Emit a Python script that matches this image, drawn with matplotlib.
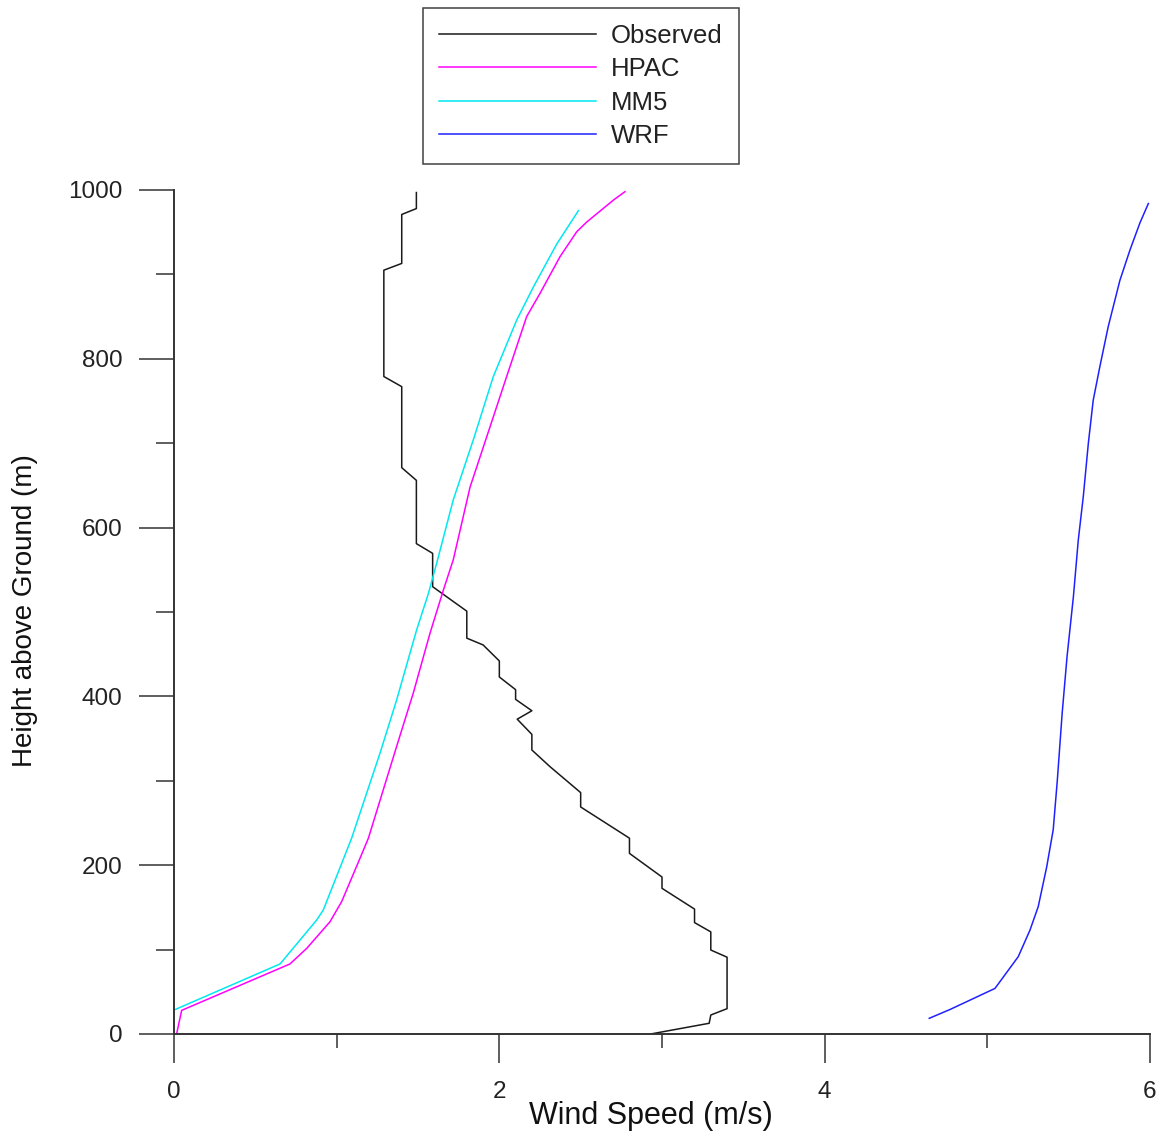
import matplotlib
matplotlib.use("Agg")
import matplotlib.pyplot as plt
from matplotlib.ticker import MultipleLocator

plt.rcParams["font.family"] = ["Liberation Sans", "DejaVu Sans"]

# Observed wind profile (m/s vs height above ground, m)
obs_speed = [2.93, 3.29, 3.30, 3.40, 3.40, 3.30, 3.30, 3.20, 3.20, 3.00,
             3.00, 2.80, 2.80, 2.50, 2.50, 2.31, 2.20, 2.20, 2.11, 2.20,
             2.10, 2.10, 2.00, 2.00, 1.90, 1.80, 1.80, 1.72, 1.59, 1.59,
             1.49, 1.49, 1.40, 1.40, 1.29, 1.29, 1.40, 1.40, 1.49, 1.49]
obs_height = [0, 12.7, 22.5, 30, 91, 99.5, 121, 132, 148, 172.6,
              186, 214, 232, 269, 286, 317, 336.5, 355, 373, 383,
              396.5, 408, 423, 442, 461, 469, 501, 512, 530, 569.5,
              581, 656, 671, 767, 779, 905, 913, 971, 978, 997]

# HPAC profile
hpac_speed = [0.016, 0.047, 0.713, 0.816, 0.959, 1.031, 1.143, 1.195, 1.369,
              1.471, 1.574, 1.656, 1.717, 1.820, 1.943, 2.045, 2.168, 2.250,
              2.373, 2.476, 2.537, 2.701, 2.772]
hpac_height = [0, 28, 83, 101.5, 133, 157, 208, 232, 341,
               404, 475, 526, 562, 648, 719.5, 779, 850, 877.5,
               921, 950.6, 962, 988, 998]

# MM5 profile
mm5_speed = [0.0, 0.652, 0.877, 0.918, 1.092, 1.266, 1.369, 1.492, 1.564,
             1.615, 1.717, 1.840, 1.963, 2.107, 2.209, 2.353, 2.486]
mm5_height = [28.4, 83, 135, 147, 232, 332.5, 396, 479, 522,
              558, 633, 704, 779, 846, 885, 936, 975.5]

# WRF profile
wrf_speed = [4.643, 4.770, 5.047, 5.190, 5.262, 5.313, 5.365, 5.405, 5.430,
             5.460, 5.490, 5.529, 5.559, 5.590, 5.621, 5.651, 5.692, 5.743,
             5.815, 5.877, 5.938, 5.990]
wrf_height = [18.6, 29, 54, 91.6, 123, 151, 198, 242, 300,
              380, 447, 518, 585, 637, 700, 751, 791, 838,
              893, 929, 961, 984]

series_labels = ["Observed", "HPAC", "MM5", "WRF"]
series_colors = ["#1a1a1a", "#ff00ff", "#00e8f0", "#2020ff"]

W, H = 1160, 1137
fig = plt.figure(figsize=(W / 100, H / 100), dpi=100)
ax = fig.add_axes([174 / W, 1 - 1034 / H, (1150 - 174) / W, (1034 - 190) / H])

lw = 1.1
l_obs, = ax.plot(obs_speed, obs_height, color=series_colors[0], lw=lw)
l_hpac, = ax.plot(hpac_speed, hpac_height, color=series_colors[1], lw=lw)
l_mm5, = ax.plot(mm5_speed, mm5_height, color=series_colors[2], lw=lw)
l_wrf, = ax.plot(wrf_speed, wrf_height, color=series_colors[3], lw=lw)

ax.set_xlim(0, 6)
ax.set_ylim(0, 1000)

for s in ("top", "right"):
    ax.spines[s].set_visible(False)
for s in ("left", "bottom"):
    ax.spines[s].set_linewidth(1.4)
    ax.spines[s].set_color("#333333")

ax.xaxis.set_major_locator(MultipleLocator(2))
ax.xaxis.set_minor_locator(MultipleLocator(1))
ax.yaxis.set_major_locator(MultipleLocator(200))
ax.yaxis.set_minor_locator(MultipleLocator(100))

ax.tick_params(axis="x", which="major", direction="out", length=21, width=1.1,
               color="#333333", pad=13, labelsize=17.5, labelcolor="#222222")
ax.tick_params(axis="x", which="minor", direction="out", length=10, width=1.1,
               color="#333333")
ax.tick_params(axis="y", which="major", direction="out", length=25, width=1.1,
               color="#333333", pad=12, labelsize=17.5, labelcolor="#222222")
ax.tick_params(axis="y", which="minor", direction="out", length=13, width=1.1,
               color="#333333")

fig.text(651 / W, 1 - 1116 / H, "Wind Speed (m/s)", ha="center", va="center",
         fontsize=22, color="#111111")
fig.text(25 / W, 1 - 611 / H, "Height above Ground (m)", ha="center",
         va="center", rotation=90, fontsize=20, color="#111111")

leg = ax.legend([l_obs, l_hpac, l_mm5, l_wrf], series_labels,
                loc="upper left", bbox_to_anchor=(423 / W, 1 - 8 / H),
                bbox_transform=fig.transFigure, borderaxespad=0,
                fontsize=18.5, handlelength=6.1, handletextpad=0.6,
                labelspacing=0.37, borderpad=0.62, frameon=True,
                fancybox=False, edgecolor="#111111")
leg.get_frame().set_linewidth(1.1)
for t in leg.get_texts():
    t.set_color("#222222")

fig.savefig("out.png", dpi=100)
